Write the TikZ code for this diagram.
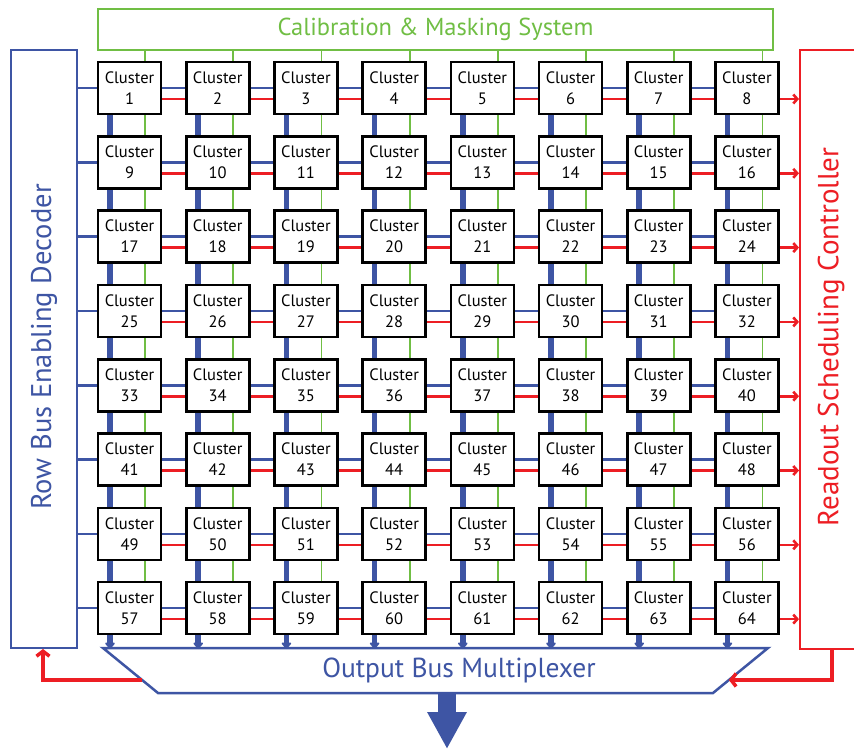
\documentclass[tikz,border=0pt]{standalone}
\usepackage{fontspec}
\setmainfont{PT Sans}
\usetikzlibrary{arrows.meta,calc,backgrounds}
\definecolor{cblue}{RGB}{62,85,164}
\definecolor{cred}{RGB}{237,30,36}
\definecolor{cgreen}{RGB}{112,190,68}
\begin{document}
\begin{tikzpicture}[x=1pt,y=-1pt,
  cluster/.style={draw=black, line width=2.6pt, fill=white, minimum width=63pt,
    minimum height=52pt, inner sep=0pt, align=center, font=\fontsize{16.5}{21}\selectfont},
  bigbox/.style={line width=2pt, inner sep=0pt},
  biglabel/.style={inner sep=0pt},
  rowbus/.style={cblue, line width=2.6pt},
  rowread/.style={cred, line width=2.6pt},
  colbus/.style={cblue, line width=5.5pt},
  calline/.style={cgreen, line width=1.8pt},
  readarrow/.style={cred, line width=2.6pt, -{Straight Barb[length=4pt,width=9pt]}},
  busarrow/.style={cblue, line width=5.5pt, -{Triangle[length=7pt,width=11pt,round]}},
  feedback/.style={cred, line width=3.5pt, -{Straight Barb[length=5pt,width=13pt]}}]
\useasboundingbox (0,0) rectangle (854,749);
\clip (0,0) rectangle (854,749);

% side and top blocks
\node[bigbox, draw=cblue, minimum width=66pt, minimum height=598pt] (dec) at (44,349) {};
\node[biglabel, rotate=90, text=cblue, font=\fontsize{28.5}{32}\selectfont] (declabel) at (44,347) {Row Bus Enabling Decoder};
\node[bigbox, draw=cred, minimum width=60pt, minimum height=599pt] (ctl) at (830,349.5) {};
\node[biglabel, rotate=90, text=cred, font=\fontsize{29}{32}\selectfont] (ctllabel) at (831,337) {Readout Scheduling Controller};
\node[bigbox, draw=cgreen, line width=2.5pt, minimum width=675pt, minimum height=41pt, biglabel, text=cgreen, font=\fontsize{24.5}{28}\selectfont] (cal) at (435.5,29.5) {Calibration \& Masking System};

% clusters
\foreach \r in {0,...,7} {
  \foreach \c in {0,...,7} {
    \pgfmathtruncatemacro{\k}{\r*8+\c+1}
    \node[cluster] (c\k) at ({129.5+88.2*\c},{88+74.3*\r}) {Cluster\\\k};
  }
}

% multiplexer
\coordinate (mtl) at (103,648);
\coordinate (mtr) at (768,648);
\coordinate (mbr) at (713,693);
\coordinate (mbl) at (158,693);
\draw[cblue, line width=2.5pt, line join=miter] (mtl) -- (mtr) -- (mbr) -- (mbl) -- cycle;
\node[biglabel, text=cblue, font=\fontsize{27.5}{30}\selectfont] (mux) at (459,670) {Output Bus Multiplexer};
\coordinate (mb) at (447,693);
\coordinate (out) at (447,749);
\draw[cblue, line width=18pt, -{Triangle[length=37pt,width=37pt]}] (mb) -- (out);

% feedback arrows
\coordinate (fl) at ($(mtl)!0.711!(mbl)$);
\coordinate (fr) at ($(mtr)!0.711!(mbr)$);
\draw[feedback] (fl) -| ([xshift=-1pt]dec.south);
\draw[feedback] ([xshift=2pt]ctl.south) |- (fr);

\begin{scope}[on background layer]
\fill[white] (0,0) rectangle (854,749);
\foreach \r in {0,...,7} {
  \pgfmathtruncatemacro{\f}{\r*8+1}
  \pgfmathtruncatemacro{\e}{\r*8+8}
  \draw[rowbus] (c\f.west -| dec.east) -- (c\f.west);
  \draw[readarrow] ([yshift=-11pt]c\e.east) -- ([yshift=-11pt]c\e.east -| ctl.west);
  \foreach \c in {0,...,6} {
    \pgfmathtruncatemacro{\a}{\r*8+\c+1}
    \pgfmathtruncatemacro{\b}{\a+1}
    \draw[rowbus] (c\a.east) -- (c\b.west);
    \draw[rowread] ([yshift=-11pt]c\a.east) -- ([yshift=-11pt]c\b.west);
  }
}
\foreach \c in {1,...,8} {
  \draw[calline] ([xshift=15.5pt]c\c.north |- cal.south) -- ([xshift=15.5pt]c\c.north);
  \foreach \r in {0,...,6} {
    \pgfmathtruncatemacro{\a}{\r*8+\c}
    \pgfmathtruncatemacro{\b}{\a+8}
    \draw[colbus] ([xshift=-19.5pt]c\a.south) -- ([xshift=-19.5pt]c\b.north);
    \draw[calline] ([xshift=15.5pt]c\a.south) -- ([xshift=15.5pt]c\b.north);
  }
  \pgfmathtruncatemacro{\z}{56+\c}
  \draw[busarrow] ([xshift=-19.5pt]c\z.south) -- ([xshift=-19.5pt,yshift=-1pt]c\z.south |- mtl);
}
\end{scope}
\end{tikzpicture}
\end{document}
